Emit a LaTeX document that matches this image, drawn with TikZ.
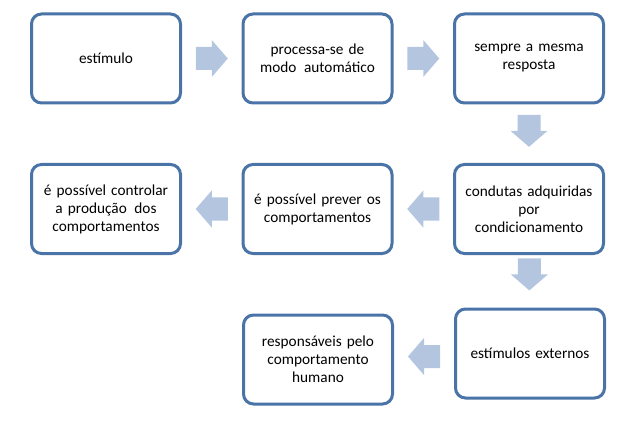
\documentclass[tikz,border=0pt]{standalone}
\usepackage{fontspec}
\setmainfont{Carlito}
\usetikzlibrary{calc}
\definecolor{boxborder}{RGB}{74,116,168}
\definecolor{arrowfill}{RGB}{180,197,224}
\tikzset{
  flowbox/.style={draw=boxborder, line width=3pt, rounded corners=10pt, fill=white,
    minimum width=149pt, minimum height=89pt, align=center, text width=144pt,
    font=\fontsize{15.3}{18}\selectfont, inner sep=0pt},
  barrow/.pic={\fill[arrowfill] (-16,-11.5) -- (0,-11.5) -- (0,-18.5) -- (16,0) -- (0,18.5) -- (0,11.5) -- (-16,11.5) -- cycle;}
}
\begin{document}
\begin{tikzpicture}[x=1pt,y=1pt]
\useasboundingbox (0,0) rectangle (642,-422);
\node[flowbox] (b1) at (106,-58.5) {estímulo};
\node[flowbox] (b2) at (317.5,-58.5) {processa-se de\\modo\kern2.5pt{} automático};
\node[flowbox] (b3) at (529,-58.5) {sempre a mesma\\resposta};
\node[flowbox] (b4) at (106,-209) {é possível controlar\\a produção\kern2.5pt{} dos\\comportamentos};
\node[flowbox] (b5) at (317.5,-209) {é possível prever os\\comportamentos};
\node[flowbox] (b6) at (529,-209) {condutas adquiridas\\por\\condicionamento};
\node[flowbox] (b7) at (318,-359.5) {responsáveis pelo\\comportamento\\humano};
\node[flowbox] (b8) at (530,-353.5) {estímulos externos};
\pic at ($(b1.east)!0.5!(b2.west)$) {barrow};
\pic at ($(b2.east)!0.5!(b3.west)$) {barrow};
\pic[rotate=-90] at ($(b3.south)!0.45!(b6.north)$) {barrow};
\pic[rotate=180] at ($(b6.west)!0.5!(b5.east)$) {barrow};
\pic[rotate=180] at ($(b5.west)!0.5!(b4.east)$) {barrow};
\pic[rotate=-90] at ($(b6.south)!0.37!(b8.north)$) {barrow};
\pic[rotate=180] at ($(b8.west)!0.5!(b7.east)$) {barrow};
\end{tikzpicture}
\end{document}
